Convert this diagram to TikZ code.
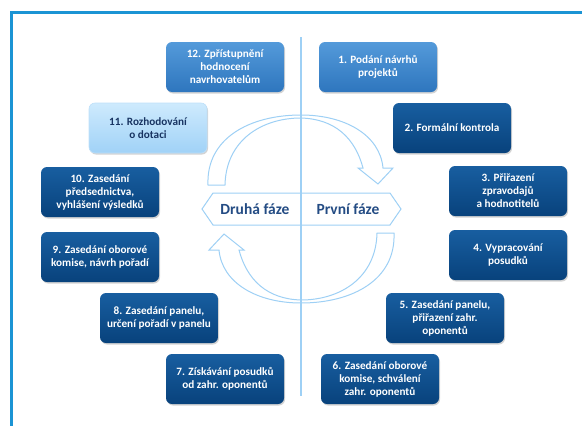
\documentclass[tikz,border=0pt]{standalone}
\usepackage{fontspec}
\setmainfont{Carlito}
\usetikzlibrary{shadows}
\definecolor{frameblue}{RGB}{27,148,212}
\definecolor{lineblue}{RGB}{158,208,245}
\definecolor{darktop}{RGB}{24,94,160}
\definecolor{darkbot}{RGB}{8,66,124}
\definecolor{midtop}{RGB}{84,154,218}
\definecolor{midbot}{RGB}{46,118,190}
\definecolor{lighttop}{RGB}{206,234,253}
\definecolor{lightbot}{RGB}{160,210,247}
\definecolor{textblue}{RGB}{36,76,132}
\definecolor{navy}{RGB}{24,52,98}

\begin{document}
\begin{tikzpicture}[x=1pt,y=-1pt,
  box/.style={rectangle,rounded corners=6pt,minimum width=118pt,minimum height=50pt,
    inner sep=2pt,align=center,text=white,
    font=\fontsize{11.2}{13}\selectfont\bfseries,
    drop shadow={opacity=0.35,shadow xshift=1pt,shadow yshift=-1.5pt}},
  darkbox/.style={box,top color=darktop,bottom color=darkbot},
  midbox/.style={box,top color=midtop,bottom color=midbot},
  lightbox/.style={box,top color=lighttop,bottom color=lightbot,text=navy,
    draw=lightbot!70!white,line width=0.6pt},
  band/.style={draw=lineblue,line width=1pt,fill=white},
  phase/.style={text=textblue,font=\fontsize{15.5}{17}\selectfont\bfseries}]
\useasboundingbox (0,0) rectangle (582,426);
%
\draw[frameblue,line width=3pt] (11,426) -- (11,12) -- (582,12);
%
% circular arrows
\draw[band] (208,185) .. controls (206,138) and (250,115) .. (301,115)
  .. controls (345,115) and (380,135) .. (383,168) -- (393,168) -- (378,184)
  -- (358,168) -- (363,168) .. controls (355,138) and (335,119) .. (301,118)
  .. controls (262,118) and (226,140) .. (225,185) -- cycle;
\begin{scope}[rotate around={180:(301,209)}]
\draw[band] (208,185) .. controls (206,138) and (250,115) .. (301,115)
  .. controls (345,115) and (380,135) .. (383,168) -- (393,168) -- (378,184)
  -- (358,168) -- (363,168) .. controls (355,138) and (335,119) .. (301,118)
  .. controls (262,118) and (226,140) .. (225,185) -- cycle;
\end{scope}
\draw[band] (202,209) -- (213,193) -- (390,193) -- (401,209) -- (390,225)
  -- (213,225) -- cycle;
%
\coordinate (axtop) at (301,37);
\coordinate (axbot) at (301,396);
\draw[lineblue,line width=1.3pt] (axtop) -- (axbot);
%
\node (druha) at (255,209) [phase] {Druhá fáze};
\node (prvni) at (348,209) [phase] {První fáze};
%
\node (s1) at (378,67) [midbox] {1. Podání návrhů\\projektů};
\node (s2) at (452,128) [darkbox] {2. Formální kontrola};
\node (s3) at (508,191) [darkbox] {3. Přiřazení\\zpravodajů\\a hodnotitelů};
\node (s4) at (508,255) [darkbox] {4. Vypracování\\posudků};
\node (s5) at (445,318) [darkbox] {5. Zasedání panelu,\\přiřazení zahr.\\oponentů};
\node (s6) at (380,379) [darkbox] {6. Zasedání oborové\\komise, schválení\\zahr. oponentů};
%
\node (s7) at (225,379) [darkbox] {7. Získávání posudků\\od zahr. oponentů};
\node (s8) at (159,318) [darkbox] {8. Zasedání panelu,\\určení pořadí v panelu};
\node (s9) at (100,257) [darkbox] {9. Zasedání oborové\\komise, návrh pořadí};
\node (s10) at (100,192) [darkbox] {10. Zasedání\\předsednictva,\\vyhlášení výsledků};
\node (s11) at (148,128) [lightbox] {11. Rozhodování\\o dotaci};
\node (s12) at (225,67) [midbox] {12. Zpřístupnění\\hodnocení\\navrhovatelům};
\end{tikzpicture}
\end{document}
